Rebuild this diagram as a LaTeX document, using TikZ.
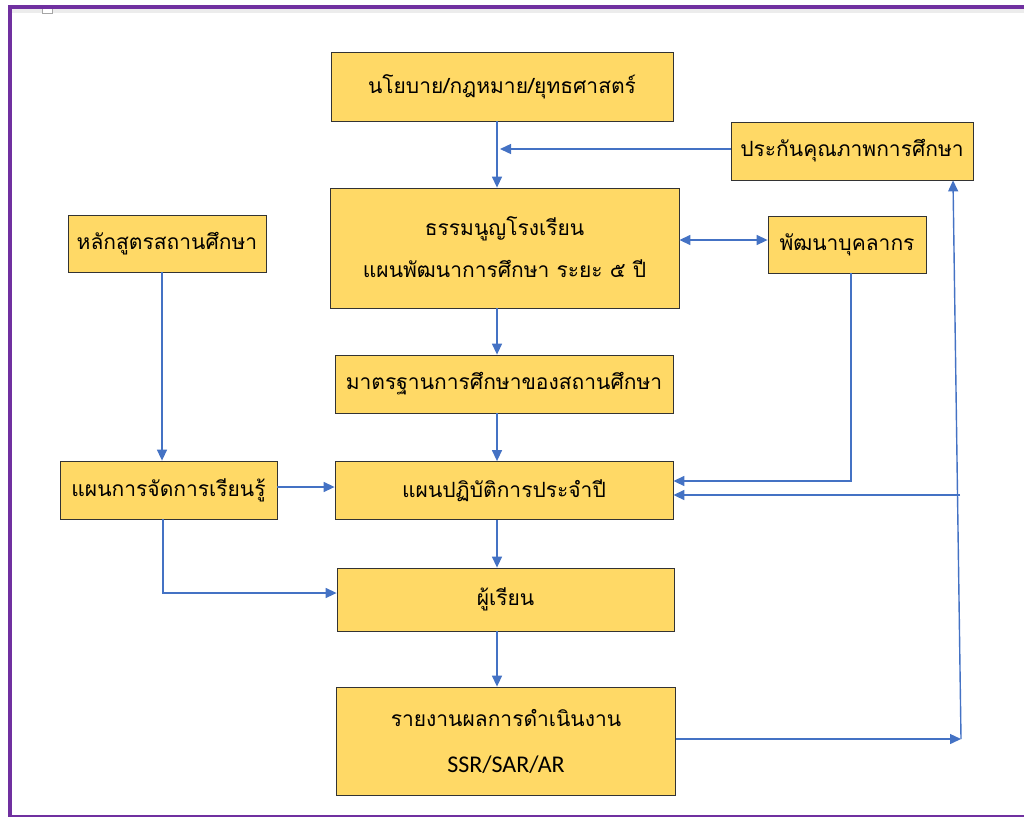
\documentclass[tikz,border=0pt]{standalone}
\usepackage{fontspec}
\setmainfont{Carlito}
\newfontfamily\thai[Script=Thai]{Loma}
\usetikzlibrary{arrows.meta,calc}
\definecolor{boxfill}{HTML}{FFD966}
\definecolor{arrblue}{HTML}{4472C4}
\definecolor{framepurple}{HTML}{7030A0}
\tikzset{
  box/.style={draw=black!80, line width=0.8pt, fill=boxfill, inner sep=0pt,
    font=\thai\fontsize{21}{24}\selectfont, align=center},
  arr/.style={draw=arrblue, line width=1.4pt, -{Triangle[length=11pt,width=10pt]}},
  dbl/.style={draw=arrblue, line width=1.4pt, {Triangle[length=11pt,width=10pt]}-{Triangle[length=11pt,width=10pt]}},
}
\begin{document}
\begin{tikzpicture}[x=1pt,y=-1pt]
\useasboundingbox (0,0) rectangle (1024,817);
% frame
\fill[gray!15] (12,9) rectangle (1024,13);
\draw[gray!70, fill=white, line width=0.6pt] (42,8) rectangle (52,13);
\draw[framepurple, line width=3.5pt] (1024,7) -- (10,7) -- (10,817);
\draw[framepurple, line width=2pt] (10,816) -- (1024,816);
% boxes
\node[box, minimum width=342pt, minimum height=69pt] (n1) at (502,86.5) {นโยบาย/กฎหมาย/ยุทธศาสตร์};
\node[box, minimum width=242pt, minimum height=58pt] (n2) at (852,151) {ประกันคุณภาพการศึกษา};
\node[box, minimum width=349pt, minimum height=120pt, font=\thai\fontsize{21}{42}\selectfont] (n3) at (504.5,248) {\raisebox{4pt}{\begin{tabular}{@{}c@{}}ธรรมนูญโรงเรียน\\แผนพัฒนาการศึกษา ระยะ ๕ ปี\end{tabular}}};
\node[box, minimum width=158pt, minimum height=57pt] (n4) at (847,244.5) {พัฒนาบุคลากร};
\node[box, minimum width=198pt, minimum height=57pt] (n5) at (167,243.5) {หลักสูตรสถานศึกษา};
\node[box, minimum width=338pt, minimum height=58pt] (n6) at (504,384) {มาตรฐานการศึกษาของสถานศึกษา};
\node[box, minimum width=338pt, minimum height=58pt] (n7) at (504,490.5) {แผนปฏิบัติการประจำปี};
\node[box, minimum width=217pt, minimum height=58pt] (n8) at (168.5,490) {แผนการจัดการเรียนรู้};
\node[box, minimum width=337pt, minimum height=63pt] (n9) at (505.5,599.5) {ผู้เรียน};
\node[box, minimum width=339pt, minimum height=108pt, font=\thai\fontsize{21}{46}\selectfont] (n10) at (506,741) {รายงานผลการดำเนินงาน\\{\rmfamily\fontsize{24}{46}\selectfont SSR/SAR/AR}};
% helper coordinates
\coordinate (cx) at (497,0);
\coordinate (y149) at (0,149);
\coordinate (y240) at (0,240);
\coordinate (p851) at (851,0);
\coordinate (y481) at (0,481);
\coordinate (y495) at (0,495);
\coordinate (rb) at (961,739);
\coordinate (rj) at (960,495);
\coordinate (rt) at (953,0);
\coordinate (x162) at (162,0);
\coordinate (x163) at (163,0);
\coordinate (y487) at (0,487);
\coordinate (y593) at (0,593);
\coordinate (y739) at (0,739);
% connectors
\draw[arr] (n1.south -| cx) -- (n3.north -| cx);
\draw[arr] (n2.west |- y149) -- ($(cx |- y149)+(3,0)$);
\draw[dbl] (n3.east |- y240) -- (n4.west |- y240);
\draw[arr] (n4.south -| p851) |- (n7.east |- y481);
\draw[arr] (rj) -- (n7.east |- y495);
\draw[arr] (n10.east |- y739) -- (rb);
\draw[arr] (rb) -- (n2.south -| rt);
\draw[arr] (n3.south -| cx) -- (n6.north -| cx);
\draw[arr] (n6.south -| cx) -- (n7.north -| cx);
\draw[arr] (n7.south -| cx) -- (n9.north -| cx);
\draw[arr] (n9.south -| cx) -- (n10.north -| cx);
\draw[arr] (n5.south -| x162) -- (n8.north -| x162);
\draw[arr] (n8.east |- y487) -- (n7.west |- y487);
\draw[arr] (n8.south -| x163) |- (n9.west |- y593);
\end{tikzpicture}
\end{document}
